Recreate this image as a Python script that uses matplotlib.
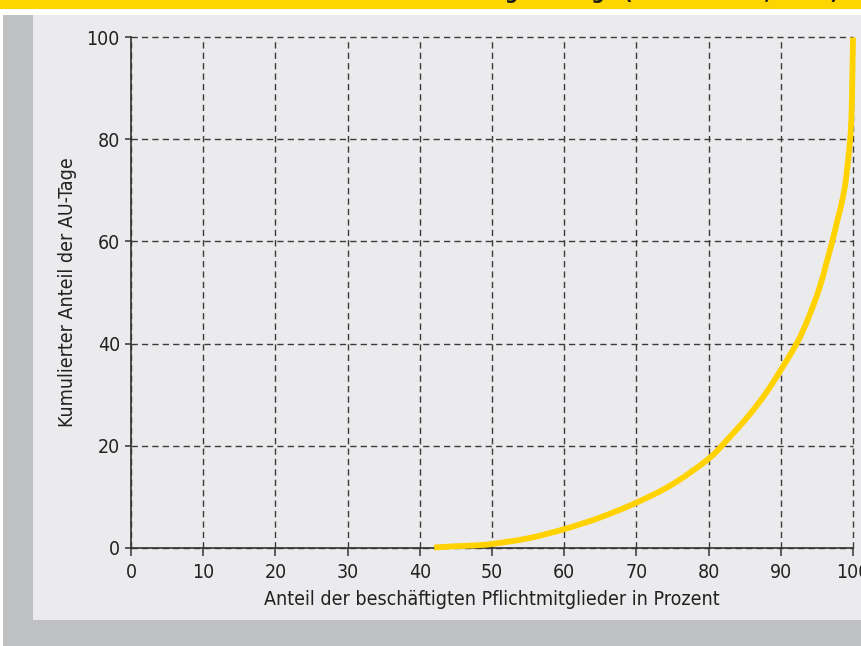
import matplotlib
matplotlib.use('Agg')
import matplotlib.pyplot as plt
import numpy as np
from matplotlib.patches import Rectangle, PathPatch
from matplotlib.path import Path

# curve (share of members vs. cumulative share of AU days)
anteil_mitglieder = [42, 45, 47.5, 50, 55, 60, 65, 70, 75, 80, 82.5, 85.4, 87.9,
                     90.0, 92.2, 93.7, 95.4, 97.1, 97.9, 98.5, 99.0, 99.6, 99.8,
                     99.9, 100]
anteil_au_tage = [0, 0.25, 0.4, 0.7, 1.8, 3.6, 5.9, 8.8, 12.4, 17.4, 21.0, 25.6,
                  30.2, 34.8, 40.0, 44.6, 51.1, 59.9, 64.5, 68.0, 72.0, 79.9,
                  85.1, 91.6, 100]
x_ticks = [0, 10, 20, 30, 40, 50, 60, 70, 80, 90, 100]
y_ticks = [0, 20, 40, 60, 80, 100]

plt.rcParams['font.family'] = ['DejaVu Sans']
plt.rcParams['font.stretch'] = 'condensed'

W, H = 861, 646
fig = plt.figure(figsize=(W / 100, H / 100), dpi=100, facecolor='white')

# background frame in pixel coords
bg = fig.add_axes([0, 0, 1, 1])
bg.set_xlim(0, W)
bg.set_ylim(H, 0)
bg.axis('off')
bg.add_patch(Rectangle((0, 0), W, 9, color='#fdd500', lw=0))
bg.add_patch(Rectangle((3, 15), W - 3, H - 15, color='#bfc0c2', lw=0))
grad = np.linspace(0, 1, 200).reshape(-1, 1)
cmap = matplotlib.colors.LinearSegmentedColormap.from_list('g', ['#ebebed', '#c9cacc'])
bg.imshow(grad, cmap=cmap, aspect='auto', extent=(3, 33, 620, 15))
bg.add_patch(Rectangle((33, 15), W - 33, 605, color='#ebebed', lw=0))
bg.text(500, -1, 'Konzentration der Arbeitsunfähigkeitstage (Lorenzkurve, 2012)',
        ha='center', va='baseline', fontsize=15, fontweight='bold', color='#1a1a1a')

ax = fig.add_axes([131 / W, 1 - 547.5 / H, 722 / W, 510 / H])
ax.patch.set_alpha(0)

# smooth bezier path through the read points (catmull-rom control points)
px = np.array(anteil_mitglieder, dtype=float)
py = np.array(anteil_au_tage, dtype=float)
verts = [(px[0], py[0])]
codes = [Path.MOVETO]
n = len(px)
for i in range(n - 1):
    i0 = max(i - 1, 0)
    i3 = min(i + 2, n - 1)
    c1 = (px[i] + (px[i + 1] - px[i0]) / 6, py[i] + (py[i + 1] - py[i0]) / 6)
    c2 = (px[i + 1] - (px[i3] - px[i]) / 6, py[i + 1] - (py[i3] - py[i]) / 6)
    verts += [c1, c2, (px[i + 1], py[i + 1])]
    codes += [Path.CURVE4] * 3
ax.add_patch(PathPatch(Path(verts, codes), fill=False, edgecolor='#ffd200',
                       lw=4.2, capstyle='butt', joinstyle='round',
                       clip_on=False, zorder=5))

ax.set_xlim(0, 100)
ax.set_ylim(0, 100)
ax.set_xticks(x_ticks)
ax.set_yticks(y_ticks)
ax.grid(True, color='#3a3a3a', ls=(0, (4.5, 3)), lw=1.0)
for gl in ax.get_xgridlines() + ax.get_ygridlines():
    gl.set_clip_on(False)
for s in ['top', 'right']:
    ax.spines[s].set_visible(False)
for s in ['left', 'bottom']:
    ax.spines[s].set_color('#333333')
    ax.spines[s].set_linewidth(1.2)
    ax.spines[s].set_zorder(3)
ax.tick_params(axis='x', direction='out', length=6, width=1.1, color='#333333',
               labelsize=14, labelcolor='#222222', pad=5)
ax.tick_params(axis='y', direction='out', length=4, width=1.1, color='#333333',
               labelsize=14, labelcolor='#222222', pad=4)

ax.set_xlabel('Anteil der beschäftigten Pflichtmitglieder in Prozent',
              fontsize=14, color='#222222', labelpad=6)
ax.set_ylabel('Kumulierter Anteil der AU-Tage', fontsize=14, color='#222222',
              labelpad=7)

fig.savefig('out.png', dpi=100, facecolor='white')
